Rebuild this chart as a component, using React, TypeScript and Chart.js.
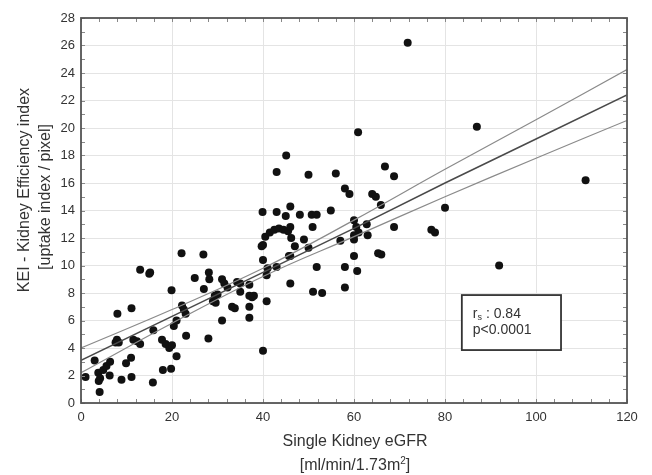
import React, { useEffect, useRef } from "react";
import { Chart, registerables } from "chart.js";

Chart.register(...registerables);

// Scatter points: Single Kidney eGFR (x) vs KEI (y)
const eGFR: number[] = [
  1.0, 3.0, 3.8, 4.2, 3.9, 4.1, 4.9, 5.6, 6.4, 6.3,
  7.6, 7.9, 8.3, 8.0, 8.9, 9.9, 11.0, 11.1, 11.1,
  11.5, 12.3, 13.0, 13.0, 15.0, 15.9, 15.8,
  18.0, 19.8, 17.8, 18.6, 19.4, 20.0, 19.9, 20.4, 21.0, 21.0,
  22.1, 22.2, 22.6, 23.0, 23.1, 25.0, 26.9, 27.0, 28.0, 28.1, 28.2,
  29.0, 29.4, 30.0, 29.6, 31.0, 31.5, 32.2, 31.0, 33.2, 33.8,
  34.3, 35.0, 35.0, 37.0, 37.0, 37.6, 38.0, 37.0, 37.0,
  40.0, 40.0, 40.0, 40.8, 40.8, 43.0, 46.0, 46.0, 47.0,
  51.8, 51.0, 53.0,
  45.1, 43.0, 50.0, 56.0, 66.8, 68.8, 58.0, 59.0, 64.0, 64.8, 65.9,
  39.9, 43.0, 46.0, 45.0, 48.1, 50.7, 51.8, 54.9, 50.9,
  60.0, 62.8, 60.5, 61.0, 60.0, 60.0, 63.0, 57.0, 68.8,
  40.5, 41.5, 42.5, 43.5, 44.5, 45.5, 46.0, 46.2,
  39.7, 49.0, 50.0, 45.7, 60.0, 65.3, 66.0,
  58.0, 60.7, 58.0, 41.0, 15.2,
  71.8, 87.0, 110.9, 91.9, 60.9, 80.0, 77.0, 77.8,
];
const kei: number[] = [
  1.9, 3.1, 2.2, 1.8, 1.6, 0.8, 2.4, 2.7, 3.0, 2.0,
  4.4, 4.6, 4.4, 6.5, 1.7, 2.9, 3.3, 1.9, 6.9,
  4.6, 4.5, 4.3, 9.7, 9.4, 5.3, 1.5,
  2.4, 2.5, 4.6, 4.3, 4.0, 4.2, 8.2, 5.6, 6.0, 3.4,
  10.9, 7.1, 6.8, 6.5, 4.9, 9.1, 10.8, 8.3, 4.7, 9.5, 9.0,
  7.4, 7.8, 7.9, 7.3, 9.0, 8.7, 8.4, 6.0, 7.0, 6.9,
  8.8, 8.7, 8.1, 8.6, 7.8, 7.7, 7.8, 7.0, 6.2,
  3.8, 11.5, 10.4, 9.3, 7.4, 9.9, 8.7, 10.7, 11.4,
  9.9, 8.1, 8.0,
  18.0, 16.8, 16.6, 16.7, 17.2, 16.5, 15.6, 15.2, 15.2, 15.0, 14.4,
  13.9, 13.9, 14.3, 13.6, 13.7, 13.7, 13.7, 14.0, 12.8,
  13.3, 13.0, 12.8, 12.4, 12.2, 11.9, 12.2, 11.8, 12.8,
  12.1, 12.4, 12.6, 12.7, 12.6, 12.5, 12.8, 12.0,
  11.4, 11.9, 11.3, 10.7, 10.7, 10.9, 10.8,
  9.9, 9.6, 8.4, 9.8, 9.5,
  26.2, 20.1, 16.2, 10.0, 19.7, 14.2, 12.6, 12.4,
];

// Regression line and 95% confidence band, read at these eGFR values
const lineX: number[] = [0, 20, 40, 60, 80, 100, 120];
const fitY: number[] = [3.1, 6.3, 9.5, 12.7, 16.0, 19.2, 22.4];
const upperY: number[] = [4.0, 6.8, 9.8, 13.3, 17.0, 20.6, 24.25];
const lowerY: number[] = [2.2, 5.8, 9.2, 12.1, 15.0, 17.8, 20.55];

const xTicks: number[] = [0, 20, 40, 60, 80, 100, 120];
const yTicks: number[] = [0, 2, 4, 6, 8, 10, 12, 14, 16, 18, 20, 22, 24, 26, 28];

const xTitle: string[] = ["Single Kidney eGFR", "[ml/min/1.73m", "2", "]"];
const yTitle: string[] = ["KEI - Kidney Efficiency index", "[uptake index / pixel]"];
const statR = "0.84";
const statP = "p<0.0001";

const FONT = "'Liberation Sans', Arial, sans-serif";
const TEXT = "#333";

const decorPlugin = {
  id: "decor",
  afterDraw(chart: any) {
    const { ctx, chartArea, scales } = chart;
    const xs = scales.x;
    const ys = scales.y;
    ctx.save();
    // minor ticks
    ctx.strokeStyle = "#888";
    ctx.lineWidth = 1;
    for (let v = 0; v <= 28; v += 1) {
      const py = Math.round(ys.getPixelForValue(v)) + 0.5;
      ctx.beginPath();
      ctx.moveTo(chartArea.left, py);
      ctx.lineTo(chartArea.left + 4, py);
      ctx.moveTo(chartArea.right, py);
      ctx.lineTo(chartArea.right - 4, py);
      ctx.stroke();
    }
    for (let v = 0; v <= 120; v += 4) {
      const px = Math.round(xs.getPixelForValue(v)) + 0.5;
      ctx.beginPath();
      ctx.moveTo(px, chartArea.bottom);
      ctx.lineTo(px, chartArea.bottom - 4);
      ctx.moveTo(px, chartArea.top);
      ctx.lineTo(px, chartArea.top + 4);
      ctx.stroke();
    }
    // frame
    ctx.strokeStyle = "#555";
    ctx.lineWidth = 1.8;
    ctx.strokeRect(chartArea.left, chartArea.top, chartArea.right - chartArea.left, chartArea.bottom - chartArea.top);

    // stats box
    const bx1 = xs.getPixelForValue(83.7);
    const bx2 = xs.getPixelForValue(105.5);
    const by1 = ys.getPixelForValue(7.85);
    const by2 = ys.getPixelForValue(3.85);
    ctx.fillStyle = "#fff";
    ctx.fillRect(bx1, by1, bx2 - bx1, by2 - by1);
    ctx.strokeStyle = "#333";
    ctx.lineWidth = 1.8;
    ctx.strokeRect(bx1, by1, bx2 - bx1, by2 - by1);
    ctx.fillStyle = TEXT;
    ctx.textBaseline = "middle";
    ctx.textAlign = "left";
    ctx.font = `14px ${FONT}`;
    const tx = bx1 + 11;
    ctx.fillText("r", tx, by1 + 19);
    const rw = ctx.measureText("r").width;
    ctx.font = `9px ${FONT}`;
    ctx.fillText("s", tx + rw, by1 + 22);
    const sw = ctx.measureText("s").width;
    ctx.font = `14px ${FONT}`;
    ctx.fillText(" : " + statR, tx + rw + sw, by1 + 19);
    ctx.fillText(statP, tx, by1 + 35);

    // axis titles
    ctx.fillStyle = TEXT;
    ctx.textAlign = "center";
    ctx.textBaseline = "middle";
    ctx.font = `16px ${FONT}`;
    const cx = (chartArea.left + chartArea.right) / 2;
    ctx.fillText(xTitle[0], cx + 1, 442);
    // second line with superscript
    const w1 = ctx.measureText(xTitle[1]).width;
    ctx.font = `10px ${FONT}`;
    const w2 = ctx.measureText(xTitle[2]).width;
    ctx.font = `16px ${FONT}`;
    const w3 = ctx.measureText(xTitle[3]).width;
    const total = w1 + w2 + w3;
    const sx = cx + 1 - total / 2;
    ctx.textAlign = "left";
    ctx.fillText(xTitle[1], sx, 466);
    ctx.font = `10px ${FONT}`;
    ctx.fillText(xTitle[2], sx + w1, 461);
    ctx.font = `16px ${FONT}`;
    ctx.fillText(xTitle[3], sx + w1 + w2, 466);

    ctx.textAlign = "center";
    ctx.translate(25, 190);
    ctx.rotate(-Math.PI / 2);
    ctx.fillText(yTitle[0], 0, 0);
    ctx.fillText(yTitle[1], -7, 21);
    ctx.restore();
  },
};

export default function App() {
  const ref = useRef<HTMLCanvasElement | null>(null);
  useEffect(() => {
    if (!ref.current) return;
    const points = eGFR.map((x, i) => ({ x, y: kei[i] }));
    const mk = (ys: number[]) => lineX.map((x, i) => ({ x, y: ys[i] }));
    const chart = new Chart(ref.current, {
      type: "scatter",
      data: {
        datasets: [
          {
            type: "line",
            data: mk(upperY),
            borderColor: "#8a8a8a",
            borderWidth: 1.2,
            pointRadius: 0,
            tension: 0.4,
            fill: false,
          } as any,
          {
            type: "line",
            data: mk(lowerY),
            borderColor: "#8a8a8a",
            borderWidth: 1.2,
            pointRadius: 0,
            tension: 0.4,
            fill: false,
          } as any,
          {
            type: "line",
            data: mk(fitY),
            borderColor: "#4a4a4a",
            borderWidth: 1.5,
            pointRadius: 0,
            tension: 0,
            fill: false,
          } as any,
          {
            data: points,
            backgroundColor: "#111",
            borderColor: "#111",
            pointRadius: 4,
            borderWidth: 0,
          },
        ],
      },
      options: {
        animation: false,
        responsive: false,
        maintainAspectRatio: false,
        layout: { padding: { left: 0, right: 25, top: 18, bottom: 0 } },
        plugins: { legend: { display: false }, tooltip: { enabled: false } },
        scales: {
          x: {
            type: "linear",
            min: 0,
            max: 120,
            afterBuildTicks: (s: any) => {
              s.ticks = xTicks.map((v) => ({ value: v }));
            },
            afterFit: (s: any) => {
              s.height = 72;
            },
            grid: { color: "#e4e4e4", drawTicks: false, lineWidth: 1 },
            border: { display: false },
            ticks: { padding: 7, color: TEXT, font: { family: FONT, size: 13 } },
          },
          y: {
            type: "linear",
            min: 0,
            max: 28,
            afterBuildTicks: (s: any) => {
              s.ticks = yTicks.map((v) => ({ value: v }));
            },
            afterFit: (s: any) => {
              s.width = 81;
            },
            grid: { color: "#e4e4e4", drawTicks: false, lineWidth: 1 },
            border: { display: false },
            ticks: { padding: 6, color: TEXT, font: { family: FONT, size: 13 } },
          },
        },
      },
      plugins: [decorPlugin],
    });
    return () => chart.destroy();
  }, []);
  return (
    <div style={{ position: "fixed", left: 0, top: 0, width: 652, height: 475, background: "#fff" }}>
      <canvas ref={ref} width={652} height={475} style={{ width: 652, height: 475, display: "block" }} />
    </div>
  );
}
